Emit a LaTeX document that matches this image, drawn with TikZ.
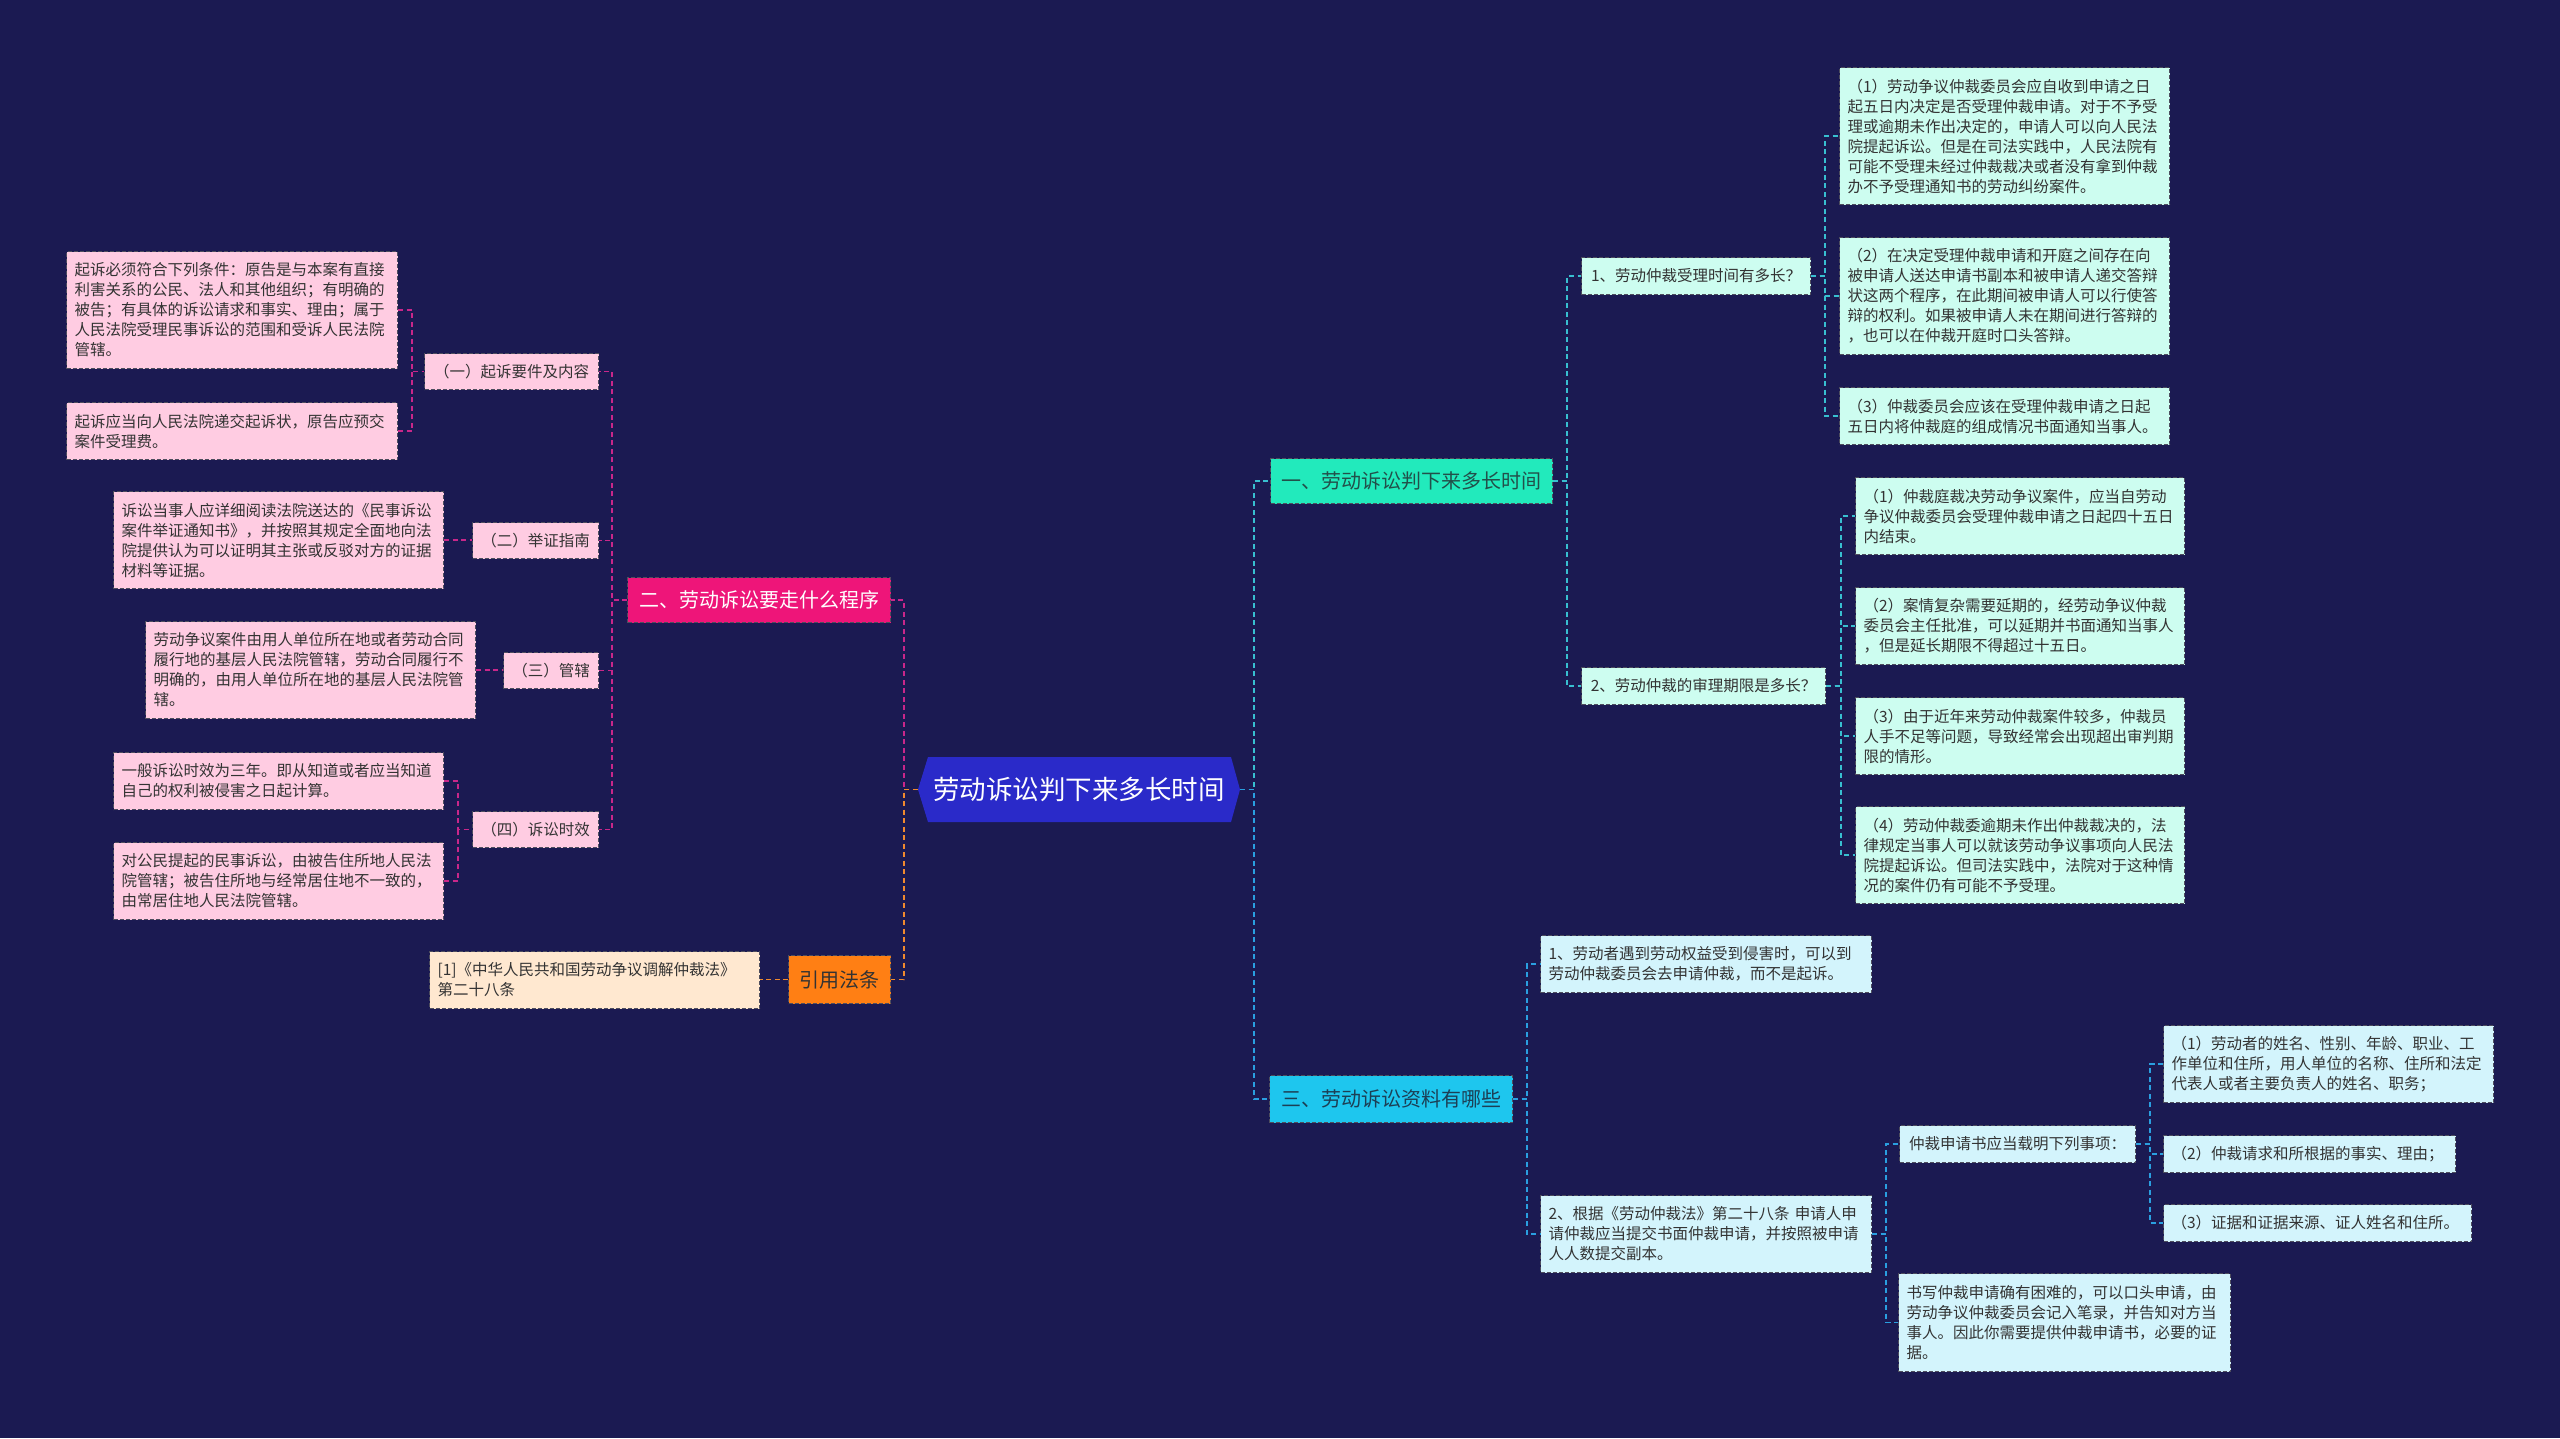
\documentclass[tikz,border=0pt]{standalone}
\usepackage{fontspec}
\setmainfont{Noto Sans CJK SC}
\definecolor{bg}{HTML}{1B1A52}
\definecolor{pinkleaf}{HTML}{FFCCE2}
\definecolor{magentanode}{HTML}{EE1579}
\definecolor{magline}{HTML}{C9278A}
\definecolor{orangenode}{HTML}{FF7F14}
\definecolor{orline}{HTML}{F08A2E}
\definecolor{peach}{HTML}{FFE8D0}
\definecolor{greennode}{HTML}{22EABC}
\definecolor{mint}{HTML}{CDFDF0}
\definecolor{tealline}{HTML}{38BFD0}
\definecolor{cyannode}{HTML}{1EC6EE}
\definecolor{lightblue}{HTML}{D3F4FC}
\definecolor{blueline}{HTML}{2A9FE0}
\definecolor{centerblue}{HTML}{2A2AC9}
\definecolor{boxborder}{HTML}{4E4E5E}
\definecolor{txt}{HTML}{333333}
\definecolor{yitxt}{HTML}{22504A}
\definecolor{santxt}{HTML}{1C3F55}
\tikzset{
  box/.style={draw=boxborder, line width=1.1pt, dash pattern=on 4pt off 2pt,
    anchor=north west, inner ysep=0pt, text=txt},
  leaf/.style={box, inner xsep=8pt, align=left, font=\fontsize{15.5}{20}\selectfont},
  mid/.style={box, inner xsep=0pt, align=center, font=\fontsize{15.5}{20}\selectfont},
  topnode/.style={box, inner xsep=0pt, align=center, font=\fontsize{20}{24}\selectfont},
  link/.style={line width=1.8pt, dash pattern=on 5pt off 3.5pt},
}
\begin{document}
\begin{tikzpicture}[x=1pt,y=-1pt]
\useasboundingbox (0,0) rectangle (2560,1438);
\fill[bg] (0,0) rectangle (2560,1438);

% ---------- centre ----------
\fill[centerblue] (918,789.5) -- (928,757) -- (1231,757) -- (1240,789.5) -- (1231,822) -- (928,822) -- cycle;
\node[minimum width=322pt, minimum height=65pt, inner sep=0pt, text=white,
  font=\fontsize{26.5}{30}\selectfont] (center) at (1079,789.5) {劳动诉讼判下来多长时间};

% ---------- left branch ----------
\node[topnode, fill=magentanode, text=white, minimum width=263pt, minimum height=45pt] (er) at (627,577) {二、劳动诉讼要走什么程序};
\node[topnode, fill=orangenode, minimum width=102pt, minimum height=48pt] (ref) at (788,955) {引用法条};
\node[leaf, fill=peach, text width=314pt, minimum height=57pt] (law) at (429,951) {[1]《中华人民共和国劳动争议调解仲裁法》\\第二十八条};

\node[mid, fill=pinkleaf, minimum width=174pt, minimum height=36pt] (k1) at (424,353) {（一）起诉要件及内容};
\node[mid, fill=pinkleaf, minimum width=126pt, minimum height=36pt] (k2) at (472,522) {（二）举证指南};
\node[mid, fill=pinkleaf, minimum width=95pt, minimum height=36pt] (k3) at (503,652) {（三）管辖};
\node[mid, fill=pinkleaf, minimum width=126pt, minimum height=36pt] (k4) at (472,811) {（四）诉讼时效};

\node[leaf, fill=pinkleaf, text width=315pt, minimum height=117pt] (a1) at (66,251) {起诉必须符合下列条件：原告是与本案有直接\\利害关系的公民、法人和其他组织；有明确的\\被告；有具体的诉讼请求和事实、理由；属于\\人民法院受理民事诉讼的范围和受诉人民法院\\管辖。};
\node[leaf, fill=pinkleaf, text width=315pt, minimum height=57pt] (a2) at (66,402) {起诉应当向人民法院递交起诉状，原告应预交\\案件受理费。};
\node[leaf, fill=pinkleaf, text width=314pt, minimum height=97pt] (b) at (113,491) {诉讼当事人应详细阅读法院送达的《民事诉讼\\案件举证通知书》，并按照其规定全面地向法\\院提供认为可以证明其主张或反驳对方的证据\\材料等证据。};
\node[leaf, fill=pinkleaf, text width=314pt, minimum height=97pt] (c) at (145,621) {劳动争议案件由用人单位所在地或者劳动合同\\履行地的基层人民法院管辖，劳动合同履行不\\明确的，由用人单位所在地的基层人民法院管\\辖。};
\node[leaf, fill=pinkleaf, text width=314pt, minimum height=57pt] (d1) at (113,752) {一般诉讼时效为三年。即从知道或者应当知道\\自己的权利被侵害之日起计算。};
\node[leaf, fill=pinkleaf, text width=314pt, minimum height=77pt] (d2) at (113,842) {对公民提起的民事诉讼，由被告住所地人民法\\院管辖；被告住所地与经常居住地不一致的，\\由常居住地人民法院管辖。};

% ---------- right branch ----------
\node[topnode, fill=greennode, text=yitxt, minimum width=282pt, minimum height=45pt] (yi) at (1270,458) {一、劳动诉讼判下来多长时间};
\node[topnode, fill=cyannode, text=santxt, minimum width=243pt, minimum height=47pt] (san) at (1269,1075) {三、劳动诉讼资料有哪些};

\node[mid, fill=mint, minimum width=229pt, minimum height=37pt] (q1) at (1581,257) {1、劳动仲裁受理时间有多长？};
\node[mid, fill=mint, minimum width=244pt, minimum height=37pt] (q2) at (1581,667) {2、劳动仲裁的审理期限是多长？};

\node[leaf, fill=mint, text width=314pt, minimum height=137pt] (r1) at (1839,67) {（1）劳动争议仲裁委员会应自收到申请之日\\起五日内决定是否受理仲裁申请。对于不予受\\理或逾期未作出决定的，申请人可以向人民法\\院提起诉讼。但是在司法实践中，人民法院有\\可能不受理未经过仲裁裁决或者没有拿到仲裁\\办不予受理通知书的劳动纠纷案件。};
\node[leaf, fill=mint, text width=314pt, minimum height=117pt] (r2) at (1839,237) {（2）在决定受理仲裁申请和开庭之间存在向\\被申请人送达申请书副本和被申请人递交答辩\\状这两个程序，在此期间被申请人可以行使答\\辩的权利。如果被申请人未在期间进行答辩的\\，也可以在仲裁开庭时口头答辩。};
\node[leaf, fill=mint, text width=314pt, minimum height=57pt] (r3) at (1839,387) {（3）仲裁委员会应该在受理仲裁申请之日起\\五日内将仲裁庭的组成情况书面通知当事人。};

\node[leaf, fill=mint, text width=313pt, minimum height=77pt] (s1) at (1855,477) {（1）仲裁庭裁决劳动争议案件，应当自劳动\\争议仲裁委员会受理仲裁申请之日起四十五日\\内结束。};
\node[leaf, fill=mint, text width=313pt, minimum height=77pt] (s2) at (1855,587) {（2）案情复杂需要延期的，经劳动争议仲裁\\委员会主任批准，可以延期并书面通知当事人\\，但是延长期限不得超过十五日。};
\node[leaf, fill=mint, text width=313pt, minimum height=77pt] (s3) at (1855,697) {（3）由于近年来劳动仲裁案件较多，仲裁员\\人手不足等问题，导致经常会出现超出审判期\\限的情形。};
\node[leaf, fill=mint, text width=313pt, minimum height=97pt] (s4) at (1855,806) {（4）劳动仲裁委逾期未作出仲裁裁决的，法\\律规定当事人可以就该劳动争议事项向人民法\\院提起诉讼。但司法实践中，法院对于这种情\\况的案件仍有可能不予受理。};

\node[leaf, fill=lightblue, text width=315pt, minimum height=57pt] (t1) at (1540,935) {1、劳动者遇到劳动权益受到侵害时，可以到\\劳动仲裁委员会去申请仲裁，而不是起诉。};
\node[leaf, fill=lightblue, text width=315pt, minimum height=77pt] (t2) at (1540,1195) {2、根据《劳动仲裁法》第二十八条 申请人申\\请仲裁应当提交书面仲裁申请，并按照被申请\\人人数提交副本。};
\node[mid, fill=lightblue, minimum width=236pt, minimum height=37pt] (u) at (1899,1125) {仲裁申请书应当载明下列事项：};
\node[leaf, fill=lightblue, text width=314pt, minimum height=77pt] (v1) at (2163,1025) {（1）劳动者的姓名、性别、年龄、职业、工\\作单位和住所，用人单位的名称、住所和法定\\代表人或者主要负责人的姓名、职务；};
\node[leaf, fill=lightblue, text width=276pt, minimum height=37pt] (v2) at (2163,1135) {（2）仲裁请求和所根据的事实、理由；};
\node[leaf, fill=lightblue, text width=292pt, minimum height=37pt] (v3) at (2163,1204) {（3）证据和证据来源、证人姓名和住所。};
\node[leaf, fill=lightblue, text width=316pt, minimum height=98pt] (w) at (1898,1273) {书写仲裁申请确有困难的，可以口头申请，由\\劳动争议仲裁委员会记入笔录，并告知对方当\\事人。因此你需要提供仲裁申请书，必要的证\\据。};

% ---------- connectors: left ----------
\draw[link, magline] (a1.east) -| ([xshift=-12pt]k1.west) -- (k1.west);
\draw[link, magline] (a2.east) -| ([xshift=-12pt]k1.west);
\draw[link, magline] (b.east) -- (b.east -| k2.west);
\draw[link, magline] (c.east) -- (c.east -| k3.west);
\draw[link, magline] (d1.east) -| ([xshift=-14pt]k4.west) -- (k4.west);
\draw[link, magline] (d2.east) -| ([xshift=-14pt]k4.west);
\foreach \k in {k1,k2,k3,k4}
  \draw[link, magline] (er.west) -- ++(-15pt,0) |- (\k.east);
\draw[link, magline] (center.west) -- ++(-14pt,0) |- (er.east);
\draw[link, orline] (center.west) -- ++(-14pt,0) |- (ref.east);
\draw[link, orline] (ref.west) -- (ref.west -| law.east);

% ---------- connectors: right ----------
\draw[link, tealline] (center.east) -- ++(14pt,0) |- (yi.west);
\draw[link, blueline] (center.east) -- ++(14pt,0) |- (san.west);
\foreach \q in {q1,q2}
  \draw[link, tealline] (yi.east) -- ++(14pt,0) |- (\q.west);
\foreach \r in {r1,r2,r3}
  \draw[link, tealline] (q1.east) -- ++(14pt,0) |- (\r.west);
\foreach \s in {s1,s2,s3,s4}
  \draw[link, tealline] (q2.east) -- ++(15pt,0) |- (\s.west);
\foreach \t in {t1,t2}
  \draw[link, blueline] (san.east) -- ++(14pt,0) |- (\t.west);
\foreach \t in {u,w}
  \draw[link, blueline] (t2.east) -- ++(14pt,0) |- (\t.west);
\foreach \v in {v1,v2,v3}
  \draw[link, blueline] (u.east) -- ++(14pt,0) |- (\v.west);
\end{tikzpicture}
\end{document}
